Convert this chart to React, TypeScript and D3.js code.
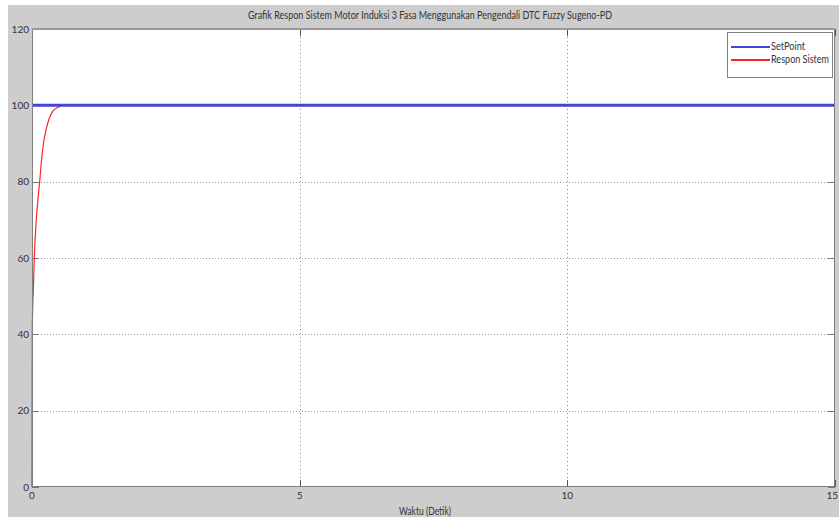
import React from "react";
import * as d3 from "d3";

// Step response of the induction motor speed loop (DTC Fuzzy Sugeno-PD)
const responseTime = [0, 0.002, 0.005, 0.013, 0.025, 0.043, 0.075, 0.125, 0.15, 0.175, 0.21, 0.27, 0.39, 0.5, 0.55, 0.6, 15];
const responseValue = [0, 20, 40, 47, 51.6, 60, 69, 77.4, 81, 85.2, 89.6, 94, 98.5, 99.6, 99.9, 100, 100];
const setPointTime = [0, 15];
const setPointValue = [100, 100];

const xTicks = [0, 5, 10, 15];
const yTicks = [0, 20, 40, 60, 80, 100, 120];
const seriesNames = ["SetPoint", "Respon Sistem"];
const titleText = "Grafik Respon Sistem Motor Induksi 3 Fasa Menggunakan Pengendali DTC Fuzzy Sugeno-PD";
const xLabelText = "Waktu (Detik)";

const W = 839;
const H = 517;
const FONT = "Lato, 'Open Sans', sans-serif";

export default function App() {
  const left = 32;
  const right = 835;
  const top = 29;
  const bottom = 487;

  const x = d3.scaleLinear().domain([0, 15]).range([left, right]);
  const y = d3.scaleLinear().domain([0, 120]).range([bottom, top]);

  const line = d3
    .line<[number, number]>()
    .x((d) => x(d[0]))
    .y((d) => y(d[1]))
    .curve(d3.curveMonotoneX);

  const respPts = responseTime.map((t, i) => [t, responseValue[i]] as [number, number]);
  const spPts = setPointTime.map((t, i) => [t, setPointValue[i]] as [number, number]);

  const blue = "#4444d6";
  const red = "#ff2424";
  const textColor = "#333";
  const legendTextWidth = [34, 58];

  return (
    <svg
      width={W}
      height={H}
      style={{ position: "fixed", left: 0, top: 0, display: "block" }}
    >
      <rect x={0} y={0} width={W} height={H} fill="#ffffff" />
      <rect x={8} y={5} width={W - 8} height={H - 5} fill="#cdcdcd" />

      {/* plot area */}
      <rect x={left} y={top} width={right - left} height={bottom - top} fill="#ffffff" />

      {/* grid */}
      {yTicks
        .filter((v) => v > 0 && v < 120)
        .map((v) => (
          <line
            key={"gy" + v}
            x1={left}
            x2={right}
            y1={Math.round(y(v)) + 0.5}
            y2={Math.round(y(v)) + 0.5}
            stroke="#9a9a9a"
            strokeDasharray="1,2"
          />
        ))}
      {xTicks
        .filter((v) => v > 0 && v < 15)
        .map((v) => (
          <line
            key={"gx" + v}
            x1={Math.round(x(v)) + 0.5}
            x2={Math.round(x(v)) + 0.5}
            y1={top}
            y2={bottom}
            stroke="#8a8a8a"
            strokeDasharray="1,3"
          />
        ))}

      {/* ticks */}
      {yTicks.map((v) => (
        <g key={"ty" + v}>
          <line x1={left} x2={left + 7} y1={Math.round(y(v)) + 0.5} y2={Math.round(y(v)) + 0.5} stroke="#777" />
          <line x1={right - 7} x2={right} y1={Math.round(y(v)) + 0.5} y2={Math.round(y(v)) + 0.5} stroke="#777" />
          <text
            x={left - 3}
            y={y(v)}
            dy="0.35em"
            textAnchor="end"
            fontSize={10}
            fontFamily={FONT}
            fill={textColor}
          >
            {v}
          </text>
        </g>
      ))}
      {xTicks.map((v, i) => (
        <g key={"tx" + v}>
          <line x1={Math.round(x(v)) + 0.5} x2={Math.round(x(v)) + 0.5} y1={bottom - 7} y2={bottom} stroke="#555" />
          <line x1={Math.round(x(v)) + 0.5} x2={Math.round(x(v)) + 0.5} y1={top} y2={top + 7} stroke="#555" />
          <text
            x={i === xTicks.length - 1 ? W - 1 : x(v)}
            y={bottom + 12}
            textAnchor={i === xTicks.length - 1 ? "end" : "middle"}
            fontSize={10}
            fontFamily={FONT}
            fill={textColor}
          >
            {v}
          </text>
        </g>
      ))}

      {/* series */}
      <path d={line(respPts) || ""} fill="none" stroke={red} strokeWidth={1.2} />
      <path d={line(spPts) || ""} fill="none" stroke={blue} strokeWidth={3} />

      {/* axes box */}
      <rect x={left + 0.5} y={top + 0.5} width={right - left - 1} height={bottom - top - 1} fill="none" stroke="#808080" />
      <line x1={left} x2={right} y1={top} y2={top} stroke="#9a9a9a" strokeWidth={2} />

      {/* title */}
      <text
        x={430}
        y={19}
        textAnchor="middle"
        fontSize={10.5}
        fontFamily={FONT}
        fill={textColor}
        textLength={364}
        lengthAdjust="spacingAndGlyphs"
      >
        {titleText}
      </text>

      {/* x label */}
      <text
        x={425}
        y={515}
        textAnchor="middle"
        fontSize={10.5}
        fontFamily={FONT}
        fill={textColor}
        textLength={52}
        lengthAdjust="spacingAndGlyphs"
      >
        {xLabelText}
      </text>

      {/* legend */}
      <g>
        <rect x={727.5} y={32.5} width={105} height={45} fill="#ffffff" stroke="#808080" />
        {seriesNames.map((name, i) => {
          const ly = 47 + i * 13;
          return (
            <g key={name}>
              <line x1={731} x2={770} y1={ly} y2={ly} stroke={i === 0 ? blue : red} strokeWidth={2} />
              <text
                x={771}
                y={ly}
                dy="0.3em"
                fontSize={10.5}
                fontFamily={FONT}
                fill={textColor}
                textLength={legendTextWidth[i]}
                lengthAdjust="spacingAndGlyphs"
              >
                {name}
              </text>
            </g>
          );
        })}
      </g>
    </svg>
  );
}
